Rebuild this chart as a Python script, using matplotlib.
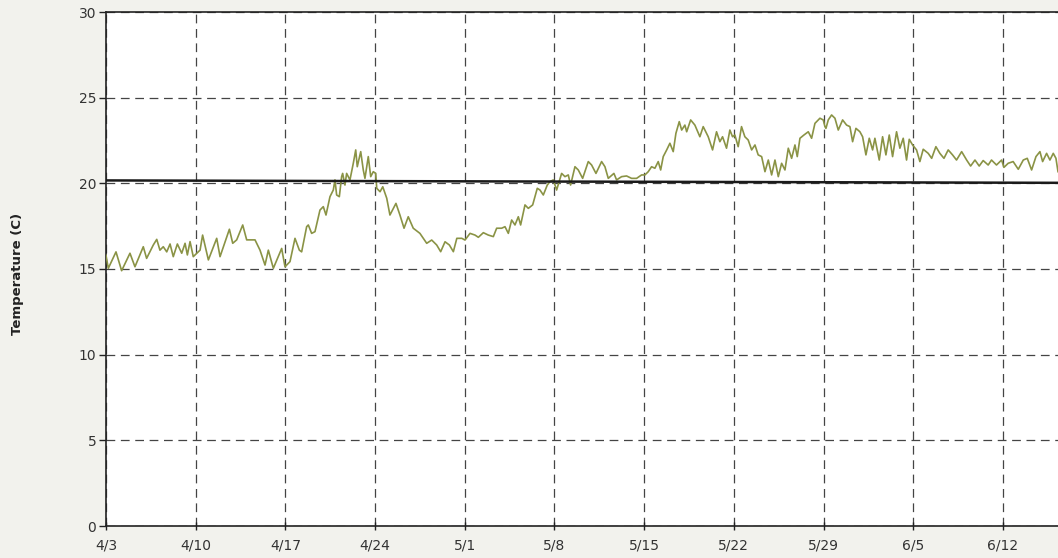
import numpy as np
import pandas as pd
import matplotlib
matplotlib.use("Agg")
import matplotlib.pyplot as plt
import matplotlib.dates as mdates
from matplotlib.ticker import FuncFormatter, MultipleLocator

# Start of record and x-range (days after start)
start = pd.Timestamp("2013-04-03")
x_end_days = 74.3

# Temperature trace: days after 4/3, temperature in C
days = [
    0.0, 0.18, 0.78, 1.22, 1.87, 2.26, 2.91, 3.17, 3.69, 3.96, 4.21, 4.47, 4.74,
    5.0, 5.25, 5.57, 5.91, 6.17, 6.35, 6.56, 6.81, 7.34, 7.54, 7.99, 8.64, 8.9,
    9.63, 9.89, 10.2, 10.67, 10.98, 11.63, 12.02, 12.41, 12.67, 13.06, 13.71, 13.97,
    14.1, 14.36, 14.75, 15.09, 15.27, 15.66, 15.79, 16.05, 16.31, 16.7, 16.96, 17.17,
    17.48, 17.74, 17.87, 18.0, 18.21, 18.39, 18.47, 18.65, 18.78, 19.04, 19.3, 19.49,
    19.61, 19.88, 20.08, 20.21, 20.47, 20.66, 20.86, 21.05, 21.13, 21.39, 21.6, 21.91,
    22.16, 22.63, 22.94, 23.26, 23.59, 23.98, 24.5, 25.03, 25.42, 25.81, 26.12, 26.46,
    26.8, 27.11, 27.38, 27.77, 28.02, 28.41, 28.8, 29.06, 29.45, 29.84, 30.23, 30.49,
    30.88, 31.14, 31.4, 31.66, 31.92, 32.18, 32.36, 32.7, 32.96, 33.3, 33.66, 33.87,
    34.13, 34.44, 34.65, 34.91, 35.17, 35.56, 35.82, 36.08, 36.26, 36.6, 36.86, 37.2,
    37.64, 37.9, 38.24, 38.68, 38.94, 39.2, 39.64, 39.85, 40.24, 40.63, 41.02, 41.41,
    41.8, 42.06, 42.32, 42.58, 42.84, 43.1, 43.29, 43.49, 43.76, 44.01, 44.27, 44.48,
    44.74, 44.93, 45.18, 45.32, 45.63, 45.96, 46.35, 46.61, 47.0, 47.34, 47.65, 47.91,
    48.12, 48.43, 48.69, 48.9, 49.08, 49.34, 49.6, 49.86, 50.12, 50.39, 50.65, 50.9,
    51.17, 51.43, 51.69, 51.95, 52.21, 52.47, 52.73, 52.99, 53.25, 53.51, 53.77, 53.95,
    54.16, 54.47, 54.81, 55.07, 55.33, 55.72, 55.98, 56.11, 56.19, 56.37, 56.63, 56.89,
    57.15, 57.49, 57.8, 58.06, 58.27, 58.53, 58.84, 59.05, 59.31, 59.57, 59.83, 60.01,
    60.35, 60.61, 60.87, 61.13, 61.39, 61.7, 61.96, 62.22, 62.48, 62.69, 62.95, 63.26,
    63.52, 63.78, 64.17, 64.44, 64.77, 65.08, 65.4, 65.73, 66.07, 66.38, 66.78, 67.17,
    67.48, 67.82, 68.15, 68.46, 68.85, 69.11, 69.5, 69.9, 70.08, 70.41, 70.8, 71.2,
    71.59, 71.9, 72.24, 72.58, 72.89, 73.1, 73.41, 73.67, 73.93, 74.14, 74.3,
]
temps = [
    15.8, 15.04, 16.0, 14.9, 15.92, 15.13, 16.3, 15.62, 16.4, 16.73, 16.1, 16.3, 16.0,
    16.46, 15.72, 16.46, 15.92, 16.5, 15.82, 16.6, 15.72, 16.1, 16.98, 15.53, 16.79, 15.72,
    17.32, 16.5, 16.7, 17.57, 16.7, 16.7, 16.1, 15.23, 16.1, 15.04, 16.2, 15.13,
    15.23, 15.43, 16.79, 16.1, 16.0, 17.47, 17.57, 17.08, 17.18, 18.44, 18.64, 18.15,
    19.22, 19.61, 20.2, 19.32, 19.22, 20.39, 20.58, 19.9, 20.58, 20.2, 21.17, 21.95,
    20.97, 21.85, 20.78, 20.29, 21.56, 20.39, 20.68, 20.58, 19.71, 19.51, 19.8, 19.13,
    18.15, 18.83, 18.15, 17.38, 18.05, 17.38, 17.08, 16.5, 16.69, 16.4, 16.01, 16.59,
    16.4, 16.01, 16.79, 16.79, 16.69, 17.08, 16.98, 16.85, 17.12, 16.98, 16.89, 17.38,
    17.38, 17.47, 17.08, 17.86, 17.57, 18.05, 17.57, 18.74, 18.54, 18.74, 19.71, 19.61,
    19.32, 19.9, 20.1, 20.2, 19.61, 20.58, 20.39, 20.49, 19.9, 20.97, 20.78, 20.29,
    21.27, 21.07, 20.58, 21.27, 20.97, 20.29, 20.58, 20.2, 20.39, 20.43, 20.29, 20.29,
    20.49, 20.49, 20.68, 20.97, 20.88, 21.27, 20.78, 21.56, 21.95, 22.34, 21.85, 22.92,
    23.6, 23.11, 23.4, 23.01, 23.7, 23.4, 22.72, 23.31, 22.72, 21.95, 23.01, 22.43,
    22.72, 22.05, 23.11, 22.72, 22.82, 22.14, 23.31, 22.72, 22.53, 21.95, 22.24, 21.66,
    21.56, 20.68, 21.36, 20.49, 21.36, 20.39, 21.17, 20.78, 22.05, 21.46, 22.24, 21.56,
    22.63, 22.82, 23.01, 22.63, 23.5, 23.8, 23.7, 23.31, 23.21, 23.7, 23.99, 23.8,
    23.11, 23.7, 23.4, 23.31, 22.43, 23.21, 23.01, 22.72, 21.66, 22.63, 21.95, 22.63,
    21.36, 22.72, 21.66, 22.82, 21.56, 23.01, 22.05, 22.63, 21.36, 22.57, 22.24, 21.95,
    21.27, 21.99, 21.75, 21.46, 22.14, 21.75, 21.46, 21.95, 21.66, 21.36, 21.85, 21.36,
    21.01, 21.36, 21.01, 21.33, 21.07, 21.36, 21.07, 21.36, 20.93, 21.17, 21.27, 20.82,
    21.36, 21.46, 20.78, 21.56, 21.85, 21.27, 21.75, 21.36, 21.75, 21.46, 20.68,
]

# Reference line (start and end values)
ref_days = [0.0, 74.3]
ref_temps = [20.17, 20.03]

times = [start + pd.Timedelta(days=d) for d in days]
ref_times = [start + pd.Timedelta(days=d) for d in ref_days]

bg = "#f2f2ed"
fig = plt.figure(figsize=(10.58, 5.58), dpi=100, facecolor=bg)
ax = fig.add_axes([106 / 1058, 1 - 526 / 558, 1 - 106 / 1058, (526 - 12) / 558])
ax.set_facecolor("white")

ax.plot(times, temps, color="#8a9345", lw=1.2, zorder=3)
ax.plot(ref_times, ref_temps, color="#1a1a1a", lw=1.8, zorder=4)

ax.set_xlim(start, start + pd.Timedelta(days=x_end_days))
ax.set_ylim(0, 30)
ax.yaxis.set_major_locator(MultipleLocator(5))
ax.set_xticks([start + pd.Timedelta(days=7 * k) for k in range(11)])


def fmt_date(val, pos):
    d = mdates.num2date(val)
    return f"{d.month}/{d.day}"


ax.xaxis.set_major_formatter(FuncFormatter(fmt_date))

ax.grid(True, color="#444444", lw=0.9, linestyle=(0, (7, 4.5)))
ax.set_axisbelow(True)

for side in ["left", "bottom", "top"]:
    ax.spines[side].set_color("#222222")
    ax.spines[side].set_linewidth(1.2)
ax.spines["right"].set_visible(False)

ax.tick_params(axis="y", direction="out", length=5, width=1, color="#222222",
               labelsize=10, labelcolor="#333333", pad=2)
ax.tick_params(axis="x", direction="inout", length=6, width=1, color="#222222",
               labelsize=10, labelcolor="#333333", pad=6)

ax.set_ylabel("Temperature (C)", fontsize=9.5, fontweight="bold", color="#222222")
ax.yaxis.set_label_coords(-0.086, 0.49)

fig.savefig("out.png", dpi=100, facecolor=bg)
